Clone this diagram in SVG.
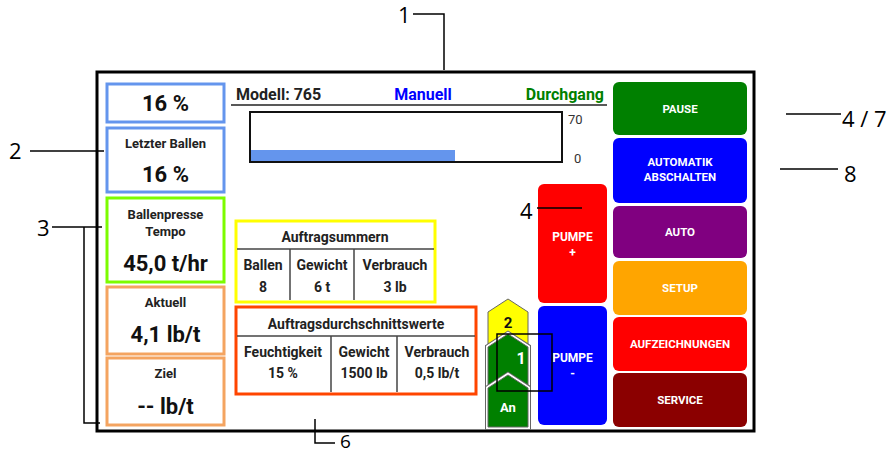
<svg xmlns="http://www.w3.org/2000/svg" width="894" height="455" viewBox="0 0 894 455">
<style>
.ui{font-family:Roboto,"Liberation Sans",sans-serif;font-weight:bold;text-anchor:middle}
.big{font-size:22px;fill:#111}
.sm{font-size:13px;fill:#222}
.tb{font-size:14px;fill:#222}
.btn{font-size:11.5px;fill:#fff}
.ann{font-family:"Open Sans","Liberation Sans",sans-serif;font-size:22px;fill:#000}
.box{fill:#fff;stroke-width:3}
.ln{stroke:#000;stroke-width:1.5;fill:none}
.tl{stroke:#444;stroke-width:1.5}
</style>
<rect width="894" height="455" fill="#fff"/>
<g id="screen">
<rect x="97" y="72" width="657" height="359" fill="#fff" stroke="#000" stroke-width="3"/>
</g>
<g id="box-16">
<rect class="box" x="107" y="84" width="117" height="38" stroke="#6495ED"/>
<text class="ui big" x="165.5" y="111">16 %</text>
</g>
<g id="box-letzter">
<rect class="box" x="107" y="128" width="117" height="64" stroke="#6495ED"/>
<text class="ui sm" x="165.5" y="148">Letzter Ballen</text>
<text class="ui big" x="165.5" y="182">16 %</text>
</g>
<g id="box-tempo">
<rect class="box" x="107" y="198" width="117" height="84" stroke="#7CFC00"/>
<text class="ui sm" x="165.5" y="219">Ballenpresse</text>
<text class="ui sm" x="165.5" y="236">Tempo</text>
<text class="ui big" x="165.5" y="271">45,0 t/hr</text>
</g>
<g id="box-aktuell">
<rect class="box" x="107" y="287" width="117" height="67" stroke="#F4A460"/>
<text class="ui sm" x="165.5" y="307">Aktuell</text>
<text class="ui big" x="165.5" y="342">4,1 lb/t</text>
</g>
<g id="box-ziel">
<rect class="box" x="107" y="358" width="117" height="67" stroke="#F4A460"/>
<text class="ui sm" x="165.5" y="378">Ziel</text>
<text class="ui big" x="165.5" y="414">-- lb/t</text>
</g>
<g id="header">
<text class="ui" x="236" y="100" style="text-anchor:start;font-size:16px;fill:#222">Modell: 765</text>
<text class="ui" x="423" y="100" style="font-size:16px;fill:#0000FF">Manuell</text>
<text class="ui" x="604" y="100" style="text-anchor:end;font-size:16px;fill:#008000">Durchgang</text>
<line x1="231" y1="105" x2="607" y2="105" stroke="#222" stroke-width="1.5"/>
</g>
<g id="bar">
<rect x="250" y="112" width="312" height="50" fill="#fff" stroke="#111" stroke-width="2"/>
<rect x="251" y="150" width="204" height="11" fill="#6495ED"/>
<text x="568" y="124" style="font-family:Roboto,'Liberation Sans',sans-serif;font-size:13px;fill:#333">70</text>
<text x="574" y="163" style="font-family:Roboto,'Liberation Sans',sans-serif;font-size:13px;fill:#333">0</text>
</g>
<g id="auftragsummern">
<rect class="box" x="236" y="221" width="199" height="81" stroke="#FFFF00"/>
<line class="tl" x1="237" y1="249" x2="434" y2="249"/>
<line class="tl" x1="290" y1="249" x2="290" y2="300"/>
<line class="tl" x1="354" y1="249" x2="354" y2="300"/>
<text class="ui tb" x="335" y="242">Auftragsummern</text>
<text class="ui tb" x="263" y="270">Ballen</text>
<text class="ui tb" x="322" y="270">Gewicht</text>
<text class="ui tb" x="395" y="270">Verbrauch</text>
<text class="ui tb" x="263" y="292">8</text>
<text class="ui tb" x="322" y="292">6 t</text>
<text class="ui tb" x="395" y="292">3 lb</text>
</g>
<g id="durchschnitt">
<rect class="box" x="236" y="307" width="240" height="87" stroke="#FF4500"/>
<line class="tl" x1="237" y1="336" x2="475" y2="336"/>
<line class="tl" x1="331" y1="336" x2="331" y2="392"/>
<line class="tl" x1="397" y1="336" x2="397" y2="392"/>
<text class="ui tb" x="356" y="329">Auftragsdurchschnittswerte</text>
<text class="ui tb" x="283" y="357">Feuchtigkeit</text>
<text class="ui tb" x="364" y="357">Gewicht</text>
<text class="ui tb" x="437" y="357">Verbrauch</text>
<text class="ui tb" x="283" y="378">15 %</text>
<text class="ui tb" x="364" y="378">1500 lb</text>
<text class="ui tb" x="437" y="378">0,5 lb/t</text>
</g>
<g id="gears">
<polygon points="488,312 508,299 528,312 528,352 488,352" fill="#FFFF00" stroke="#666" stroke-width="1"/>
<text class="ui" x="508" y="328" style="font-size:15px;fill:#111">2</text>
<polygon points="488,347 508,334 528,347 528,395 488,395" fill="none" stroke="#666" stroke-width="6"/>
<polygon points="488,347 508,334 528,347 528,395 488,395" fill="none" stroke="#fff" stroke-width="4"/>
<polygon points="488,347 508,334 528,347 528,395 488,395" fill="#008000" stroke="#666" stroke-width="1"/>
<polygon points="488,388 508,375 528,388 528,427 488,427" fill="none" stroke="#666" stroke-width="6"/>
<polygon points="488,388 508,375 528,388 528,427 488,427" fill="none" stroke="#fff" stroke-width="4"/>
<polygon points="488,388 508,375 528,388 528,427 488,427" fill="#008000" stroke="#666" stroke-width="1"/>
<text class="ui" x="508" y="412" style="font-size:13px;fill:#fff">An</text>
</g>
<g id="pumpe-plus">
<rect x="538" y="184" width="69" height="119" rx="6" fill="#FF0000"/>
<text class="ui" x="572.5" y="241" style="font-size:12px;fill:#fff">PUMPE</text>
<text class="ui" x="572.5" y="257" style="font-size:12px;fill:#fff">+</text>
</g>
<g id="pumpe-minus">
<rect x="538" y="306" width="69" height="119" rx="6" fill="#0000FF"/>
<text class="ui" x="572.5" y="362" style="font-size:12px;fill:#fff">PUMPE</text>
<text class="ui" x="572.5" y="378" style="font-size:12px;fill:#fff">-</text>
</g>
<g id="btn-pause">
<rect x="613" y="82" width="134" height="53" rx="6" fill="#008000"/>
<text class="ui btn" x="680" y="113">PAUSE</text>
</g>
<g id="btn-automatik">
<rect x="613" y="138" width="134" height="65" rx="6" fill="#0000FF"/>
<text class="ui btn" x="680" y="166">AUTOMATIK</text>
<text class="ui btn" x="680" y="181">ABSCHALTEN</text>
</g>
<g id="btn-auto">
<rect x="613" y="206" width="134" height="52" rx="6" fill="#800080"/>
<text class="ui btn" x="680" y="236">AUTO</text>
</g>
<g id="btn-setup">
<rect x="613" y="261" width="134" height="54" rx="6" fill="#FFA500"/>
<text class="ui btn" x="680" y="292">SETUP</text>
</g>
<g id="btn-aufzeichnungen">
<rect x="613" y="317" width="134" height="54" rx="6" fill="#FF0000"/>
<text class="ui btn" x="680" y="348">AUFZEICHNUNGEN</text>
</g>
<g id="btn-service">
<rect x="613" y="373" width="134" height="54" rx="6" fill="#8B0000"/>
<text class="ui btn" x="680" y="404">SERVICE</text>
</g>
<g id="connectors">
<polyline class="ln" points="413,14 444,14 444,70"/>
<line class="ln" x1="30" y1="151" x2="104" y2="151"/>
<polyline class="ln" points="52,227 102,227"/>
<polyline class="ln" points="84,227 84,423 100,423"/>
<polyline class="ln" points="315,419 315,443 335,443"/>
<line class="ln" x1="537" y1="208" x2="582" y2="208"/>
<line class="ln" x1="786" y1="114" x2="841" y2="114"/>
<line class="ln" x1="780" y1="169" x2="838" y2="169"/>
<rect x="497" y="334" width="55" height="57" fill="none" stroke="#000" stroke-width="1.5"/>
<text class="ui" x="521" y="364" style="font-size:16px;fill:#fff">1</text>
</g>
<g id="labels">
<text class="ann" x="398" y="23">1</text>
<text class="ann" x="9" y="159">2</text>
<text class="ann" x="37" y="236">3</text>
<text class="ann" x="520" y="219">4</text>
<text class="ann" x="842" y="127">4 / 7</text>
<text class="ann" x="844" y="182">8</text>
<text class="ann" x="340" y="448" style="font-size:19px">6</text>
</g>
</svg>
